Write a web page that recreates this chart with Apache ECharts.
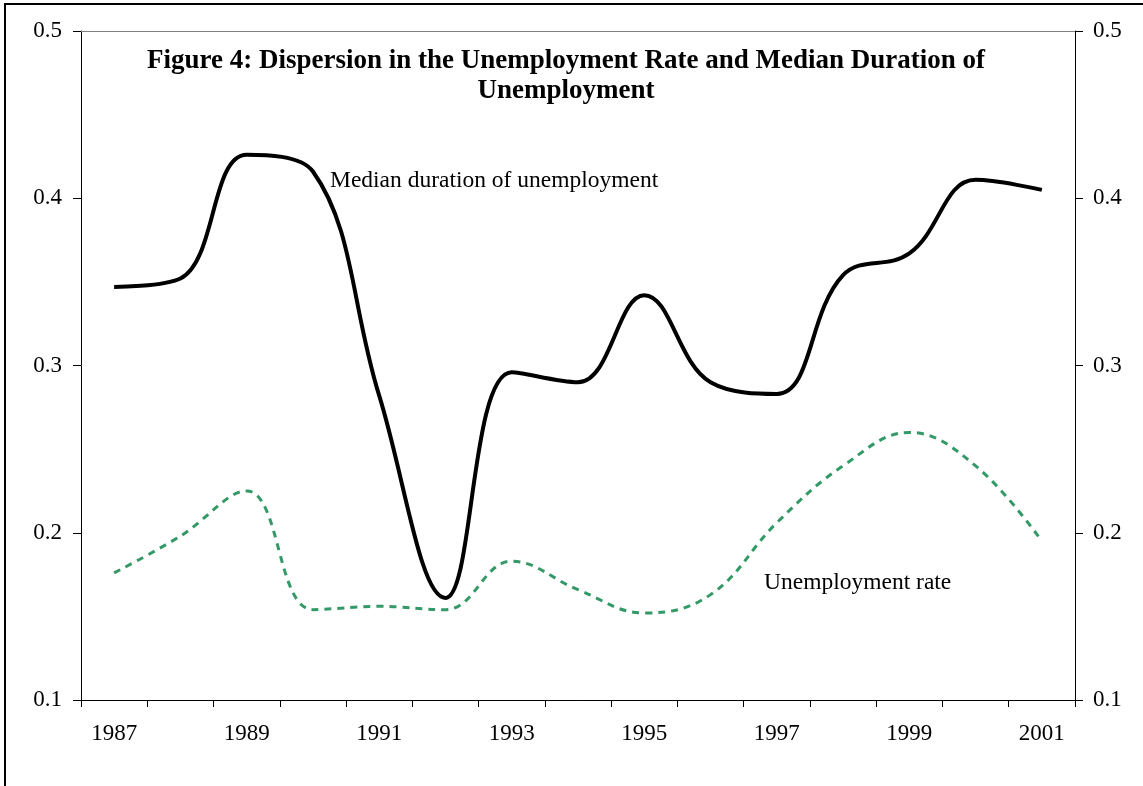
<!DOCTYPE html>
<html>
<head>
<meta charset="utf-8">
<title>Figure 4</title>
<style>
  html, body { margin: 0; padding: 0; background: #fff; }
  #main { width: 1143px; height: 786px; }
</style>
<script src="https://cdn.jsdelivr.net/npm/echarts@6/dist/echarts.min.js"></script>
</head>
<body>
<div id="main"></div>
<script>
// years on the x axis
var years = ['1987', '1988', '1989', '1990', '1991', '1992', '1993', '1994',
             '1995', '1996', '1997', '1998', '1999', '2000', '2001'];
// dispersion in median duration of unemployment
var medianDuration = [0.347, 0.352, 0.426, 0.416, 0.282, 0.161, 0.296, 0.290,
                      0.342, 0.290, 0.283, 0.354, 0.367, 0.411, 0.405];
// dispersion in the unemployment rate
var unempRate = [0.176, 0.198, 0.225, 0.154, 0.156, 0.154, 0.183, 0.166,
                 0.152, 0.163, 0.206, 0.240, 0.260, 0.240, 0.195];

var serif = 'Liberation Serif, Times New Roman, serif';

function valueAxis(pos, margin) {
  return {
    type: 'value',
    position: pos,
    min: 0.1,
    max: 0.5,
    interval: 0.1,
    axisLine: { show: true, lineStyle: { color: '#000', width: 1 } },
    axisTick: { show: true, inside: false, length: 8, lineStyle: { color: '#000' } },
    axisLabel: {
      margin: margin,
      color: '#000',
      fontFamily: serif,
      fontSize: 23,
      formatter: function (v) { return v.toFixed(1); }
    },
    splitLine: { show: false }
  };
}

var chart = echarts.init(document.getElementById('main'));
chart.setOption({
  animation: false,
  backgroundColor: '#fff',
  title: {
    text: 'Figure 4: Dispersion in the Unemployment Rate and Median Duration of\nUnemployment',
    left: 566,
    top: 46,
    padding: 0,
    textAlign: 'center',
    textStyle: {
      fontFamily: serif,
      fontWeight: 'bold',
      fontSize: 27,
      lineHeight: 30,
      color: '#000'
    }
  },
  grid: { left: 81, right: 68, top: 31, bottom: 86 },
  xAxis: [{
    type: 'category',
    data: years,
    boundaryGap: true,
    axisLine: { show: true, lineStyle: { color: '#000', width: 1 } },
    axisTick: { show: true, interval: 0, length: 7, lineStyle: { color: '#000' } },
    axisLabel: {
      interval: 1,
      margin: 22,
      color: '#000',
      fontFamily: serif,
      fontSize: 23
    },
    splitLine: { show: false }
  }, {
    type: 'category',
    data: years,
    position: 'top',
    axisLine: { show: true, lineStyle: { color: '#808080', width: 1 } },
    axisTick: { show: false },
    axisLabel: { show: false }
  }],
  yAxis: [valueAxis('left', 19), valueAxis('right', 18)],
  graphic: [
    {
      type: 'rect',
      shape: { x: 5, y: 4, width: 1200, height: 900 },
      style: { fill: 'none', stroke: '#000', lineWidth: 2 },
      silent: true
    },
    {
      type: 'text',
      left: 330,
      top: 169,
      style: {
        text: 'Median duration of unemployment',
        font: '23.5px ' + serif,
        fill: '#000'
      }
    },
    {
      type: 'text',
      left: 764,
      top: 571,
      style: {
        text: 'Unemployment rate',
        font: '23.5px ' + serif,
        fill: '#000'
      }
    }
  ],
  series: [
    {
      name: 'Median duration of unemployment',
      type: 'line',
      data: medianDuration,
      smooth: 0.4,
      symbol: 'none',
      lineStyle: { color: '#000', width: 4 }
    },
    {
      name: 'Unemployment rate',
      type: 'line',
      data: unempRate,
      smooth: 0.4,
      symbol: 'none',
      lineStyle: { color: '#339966', width: 3, type: [7, 6] }
    }
  ]
});
</script>
</body>
</html>
